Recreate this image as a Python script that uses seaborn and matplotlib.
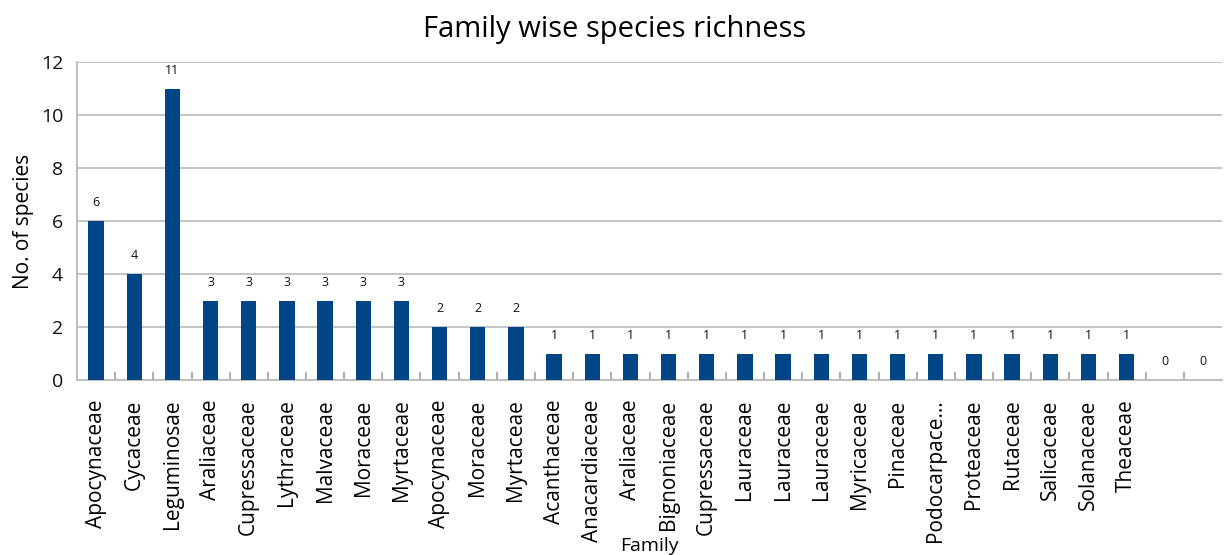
import matplotlib
matplotlib.use("Agg")
import matplotlib.pyplot as plt
import seaborn as sns
import numpy as np
import pandas as pd

families = ["Apocynaceae", "Cycaceae", "Leguminosae", "Araliaceae", "Cupressaceae",
            "Lythraceae", "Malvaceae", "Moraceae", "Myrtaceae", "Apocynaceae",
            "Moraceae", "Myrtaceae", "Acanthaceae", "Anacardiaceae", "Araliaceae",
            "Bignoniaceae", "Cupressaceae", "Lauraceae", "Lauraceae", "Lauraceae",
            "Myricaceae", "Pinaceae", "Podocarpace...", "Proteaceae", "Rutaceae",
            "Salicaceae", "Solanaceae", "Theaceae", "", ""]
species = [6, 4, 11, 3, 3, 3, 3, 3, 3, 2, 2, 2, 1, 1, 1, 1, 1, 1, 1, 1,
           1, 1, 1, 1, 1, 1, 1, 1, 0, 0]
y_ticks = [0, 2, 4, 6, 8, 10, 12]

sns.set_theme(style="white")
plt.rcParams["font.family"] = ["Open Sans", "DejaVu Sans"]

df = pd.DataFrame({"pos": [str(i) for i in range(len(families))],
                   "family": families, "species": species})

fig = plt.figure(figsize=(12.3, 5.55), dpi=100)
ax = fig.add_axes([77 / 1230, 1 - 380 / 555, (1222 - 77) / 1230, (380 - 62) / 555])

sns.barplot(data=df, x="pos", y="species", color="#004586", width=0.4,
            saturation=1, linewidth=0, ax=ax, zorder=3)

ax.set_ylim(0, 12)
ax.set_xlim(-0.5, len(families) - 0.5)
ax.set_yticks(y_ticks)
ax.set_yticklabels([str(v) for v in y_ticks], fontsize=14, color="#111111")
ax.yaxis.grid(True, color="#bfbfbf", linewidth=1.3, zorder=0)
ax.set_axisbelow(True)

ax.set_xticks(range(len(families)))
ax.set_xticklabels(families, rotation=90, fontsize=15, color="#000000",
                   va="top", ha="center")
ax.tick_params(axis="x", which="major", length=0, pad=14)
ax.tick_params(axis="y", length=0, pad=10)
ax.set_xticks(np.arange(0.5, len(families) - 1, 1.0), minor=True)
ax.tick_params(axis="x", which="minor", direction="in", length=6,
               color="#a8a8a8", width=1.3, bottom=True)

for s in ["top", "right"]:
    ax.spines[s].set_visible(False)
for s in ["left", "bottom"]:
    ax.spines[s].set_color("#bfbfbf")
    ax.spines[s].set_linewidth(1.5)

for i, v in enumerate(species):
    ax.text(i, v + 0.45, str(v), ha="center", va="bottom", fontsize=9,
            color="#111111")

ax.set_xlabel("")
ax.set_ylabel("No. of species", fontsize=15, color="#000000", labelpad=5)
fig.text((77 + 1222) / 2 / 1230, 1 - 546 / 555, "Family", ha="center",
         va="center", fontsize=14, color="#000000")
fig.text(0.5, 1 - 30 / 555, "Family wise species richness", ha="center",
         va="center", fontsize=21, color="#000000")

fig.savefig("out.png", dpi=100)
